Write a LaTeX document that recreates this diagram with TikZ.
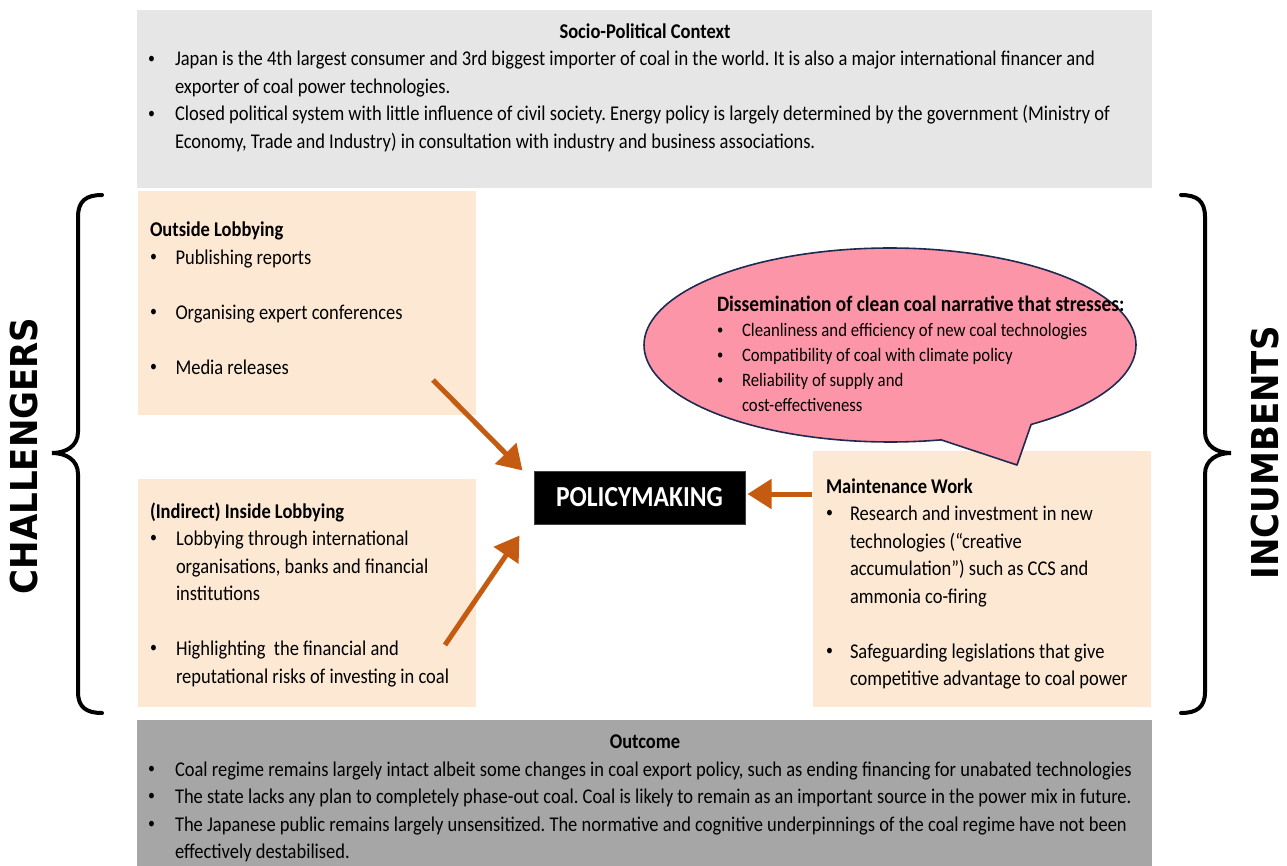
\documentclass[tikz,border=0pt]{standalone}
\usepackage{fontspec}
\setmainfont{Carlito}[FakeStretch=0.88]
\newfontfamily\sidefont{DejaVu Sans}[FakeStretch=0.92]
\usetikzlibrary{arrows.meta}
\frenchspacing
\definecolor{ctxgray}{HTML}{E7E6E6}
\definecolor{outgray}{HTML}{A6A6A6}
\definecolor{peach}{HTML}{FCE8D3}
\definecolor{bubblepink}{HTML}{FC95A7}
\definecolor{bubbleline}{HTML}{1F2A50}
\definecolor{arrowc}{HTML}{C55A11}
\newcommand{\bodyfont}{\fontsize{21}{27.5}\selectfont}
\newcommand{\smallbody}{\fontsize{19}{25}\selectfont}
\newcommand{\bdot}{\raisebox{0.12em}{\scalebox{0.75}{\textbullet}}}
\newcommand{\bitem}[2]{\par\hangindent=#1\relax\hangafter=1\relax\noindent\makebox[#1][l]{\bdot}#2}
\newcommand{\gap}{\par\vspace{27.5pt}}
\newcommand{\blockof}[2]{\begin{minipage}[t]{#1}\frenchspacing #2\end{minipage}}
\begin{document}
\begin{tikzpicture}[x=1pt,y=-1pt,
  box/.style={inner sep=0pt, outer sep=0pt, anchor=north west},
  txt/.style={inner sep=0pt, outer sep=0pt, anchor=base west},
  arr/.style={draw=arrowc, line width=5pt, -{Triangle[length=24pt,width=29pt]}},
  brace/.style={line width=4pt, line cap=round, draw=black},
  bubble/.style={fill=bubblepink, draw=bubbleline, line width=1.6pt, line join=round}
]
\useasboundingbox (0,0) rectangle (1287,866);

% containers
\node[box, fill=ctxgray, minimum width=1015pt, minimum height=178pt] (ctx) at (137,10) {};
\node[box, fill=peach, minimum width=338pt, minimum height=224pt] (outside) at (138,191) {};
\node[box, fill=peach, minimum width=338pt, minimum height=228pt] (inside) at (138,479) {};
\node[box, fill=peach, minimum width=338pt, minimum height=256pt] (maint) at (813,451) {};
\node[box, fill=outgray, minimum width=1015pt, minimum height=146pt] (outc) at (137,720) {};

% speech bubble
\draw[bubble] plot[domain=78:415, samples=160] ({890+246*cos(\x)},{345+97*sin(\x)}) -- (1017,465) -- cycle;

% context text
\node[txt, anchor=base, font=\bodyfont\bfseries] (ctxT) at (645,39) {Socio-Political Context};
\node[txt] (ctxB) at (148,66) {\blockof{1000pt}{\bodyfont
\bitem{27pt}{Japan is the 4th largest consumer and 3rd biggest importer of coal in the world. It is also a major international financer and\\exporter of coal power technologies.}
\bitem{27pt}{Closed political system with little influence of civil society. Energy policy is largely determined by the government (Ministry of\\Economy, Trade and Industry) in consultation with industry and business associations.}}};

% outside lobbying
\node[txt] (outT) at (150,237) {\blockof{320pt}{\bodyfont
\textbf{Outside Lobbying}
\bitem{25.5pt}{Publishing reports}\gap
\bitem{25.5pt}{Organising expert conferences}\gap
\bitem{25.5pt}{Media releases}}};

% inside lobbying
\node[txt] (inT) at (150,518) {\blockof{320pt}{\bodyfont
\textbf{(Indirect) Inside Lobbying}
\bitem{26pt}{Lobbying through international\\organisations, banks and financial\\institutions}\gap
\bitem{26pt}{Highlighting\ \ the financial and\\reputational risks of investing in coal}}};

% maintenance work
\node[txt] (mT) at (826,493) {\blockof{320pt}{\bodyfont
\textbf{Maintenance Work}
\bitem{24pt}{Research and investment in new\\technologies (“creative\\accumulation”) such as CCS and\\ammonia co-firing}\gap
\bitem{24pt}{Safeguarding legislations that give\\competitive advantage to coal power}}};

% bubble text
\node[txt] (bT) at (717,312) {\blockof{440pt}{\fontsize{22}{27.5}\selectfont
\textbf{Dissemination of clean coal narrative that stresses:}\par\smallbody
\bitem{25pt}{Cleanliness and efficiency of new coal technologies}
\bitem{25pt}{Compatibility of coal with climate policy}
\bitem{25pt}{Reliability of supply and\\cost-effectiveness}}};

% outcome
\node[txt, anchor=base, font=\bodyfont\bfseries] (outcT) at (645,748) {Outcome};
\node[txt] (outcB) at (148,776) {\blockof{1000pt}{\bodyfont
\bitem{27pt}{Coal regime remains largely intact albeit some changes in coal export policy, such as ending financing for unabated technologies}
\bitem{27pt}{The state lacks any plan to completely phase-out coal. Coal is likely to remain as an important source in the power mix in future.}
\bitem{27pt}{The Japanese public remains largely unsensitized. The normative and cognitive underpinnings of the coal regime have not been\\effectively destabilised.}}};

% policymaking
\node[fill=black, draw=black!75, line width=1pt, minimum width=211pt, minimum height=53pt, inner sep=0pt,
  text=white, font=\fontsize{29}{34}\selectfont\bfseries] (pol) at (639.5,497.5) {POLICYMAKING};

% arrows
\coordinate (a1s) at (433,380);
\coordinate (a2s) at (445,645);
\coordinate (a3s) at (812,494);
\draw[arr] (a1s) -- ([xshift=-11pt]pol.north west);
\draw[arr] (a2s) -- ([xshift=-14pt,yshift=-11pt]pol.south west);
\draw[arr] (a3s) -- ([xshift=2pt]a3s -| pol.east);

% braces
\draw[brace] (102,195) .. controls (86,195) and (78,201) .. (78,217) -- (78,432)
  .. controls (78,446) and (66,453) .. (52,453) .. controls (66,453) and (78,460) .. (78,474)
  -- (78,692) .. controls (78,707) and (86,713) .. (102,713);
\draw[brace] (1181,195) .. controls (1197,195) and (1205,201) .. (1205,217) -- (1205,432)
  .. controls (1205,446) and (1217,453) .. (1231,453) .. controls (1217,453) and (1205,460) .. (1205,474)
  -- (1205,692) .. controls (1205,707) and (1197,713) .. (1181,713);

% side labels
\node[rotate=90, inner sep=0pt, font=\sidefont\bfseries\fontsize{37}{40}\selectfont] (chal) at (24,456) {CHALLENGERS};
\node[rotate=90, inner sep=0pt, font=\sidefont\bfseries\fontsize{37}{40}\selectfont] (inc) at (1265,453) {INCUMBENTS};
\end{tikzpicture}
\end{document}
